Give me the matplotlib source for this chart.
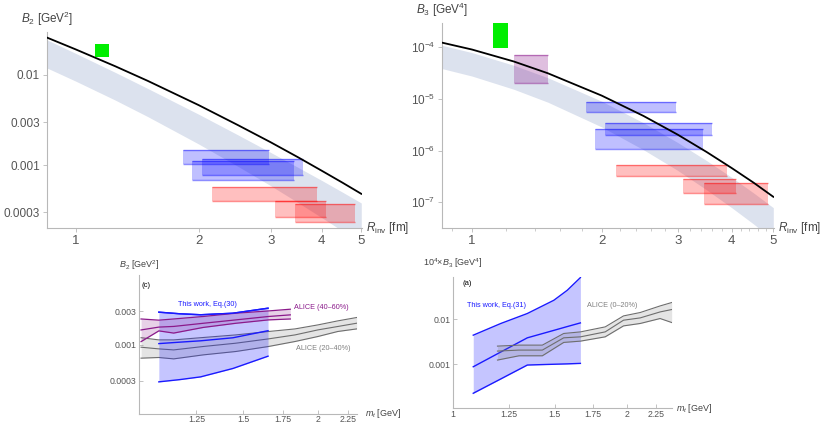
import matplotlib
matplotlib.use('Agg')
import matplotlib.pyplot as plt
from matplotlib.ticker import FixedLocator, FixedFormatter, NullLocator, NullFormatter

plt.rcParams['font.family'] = ['Liberation Sans', 'DejaVu Sans']
plt.rcParams['mathtext.fontset'] = 'custom'
plt.rcParams['mathtext.rm'] = 'Liberation Sans'
plt.rcParams['mathtext.it'] = 'Liberation Sans:italic'
plt.rcParams['mathtext.bf'] = 'Liberation Sans:bold'

# ---- top row: coalescence parameters vs source radius ----
r_grid = [0.85, 1.0, 1.25, 1.5, 2.0, 2.5, 3.0, 3.5, 4.0, 4.5, 5.0]

b2_curve = [0.0260, 0.0192, 0.01247, 0.0086, 0.00462, 0.00276, 0.00179, 0.00122, 0.000865, 0.000636, 0.000479]
b2_band_hi = [0.0245, 0.01734, 0.01066, 0.00708, 0.00366, 0.00215, 0.00138, 0.000942, 0.000675, 0.000499, 0.000379]
b2_band_lo = [0.01196, 0.00853, 0.00525, 0.00345, 0.00171, 0.000962, 0.00059, 0.000383, 0.000261, 0.000185, 0.000134]

b3_curve = [1.216e-4, 8.91e-5, 5.24e-5, 3.10e-5, 1.148e-5, 4.65e-6, 2.03e-6, 9.4e-7, 4.62e-7, 2.4e-7, 1.28e-7]
b3_band_hi = [1.079e-4, 7.77e-5, 4.42e-5, 2.54e-5, 8.95e-6, 3.43e-6, 1.43e-6, 6.41e-7, 3.05e-7, 1.52e-7, 7.9e-8]
b3_band_lo = [3.84e-5, 2.74e-5, 1.525e-5, 8.57e-6, 2.85e-6, 1.035e-6, 4.14e-7, 1.75e-7, 7.94e-8, 3.82e-8, 1.9e-8]

# measured boxes: radius range x value range
b2_blue_rmin = [1.83, 1.93, 2.04]
b2_blue_rmax = [2.98, 3.43, 3.60]
b2_blue_lo = [0.00103, 0.00069, 0.00077]
b2_blue_hi = [0.00147, 0.00111, 0.00116]
b2_red_rmin = [2.15, 3.07, 3.44]
b2_red_rmax = [3.89, 4.10, 4.83]
b2_red_lo = [0.000398, 0.000267, 0.000231]
b2_red_hi = [0.000574, 0.000398, 0.000366]
b2_green_r = [1.117, 1.206]
b2_green_val = [0.01585, 0.0221]

b3_blue_rmin = [1.84, 2.04, 1.93]
b3_blue_rmax = [2.97, 3.61, 3.43]
b3_blue_lo = [5.45e-6, 1.96e-6, 1.054e-6]
b3_blue_hi = [8.7e-6, 3.44e-6, 2.56e-6]
b3_red_rmin = [2.155, 3.08, 3.45]
b3_red_rmax = [3.90, 4.10, 4.86]
b3_red_lo = [3.27e-7, 1.54e-7, 9.44e-8]
b3_red_hi = [5.26e-7, 2.79e-7, 2.4e-7]
b3_purple_r = [1.249, 1.498]
b3_purple_val = [1.97e-5, 7.14e-5]
b3_green_r = [1.119, 1.212]
b3_green_val = [9.73e-5, 2.9e-4]

# ---- bottom row: vs transverse mass ----
mt_fit_c = [1.08, 1.17, 1.27, 1.44, 1.65]
b2_fit_hi = [0.00292, 0.00277, 0.00268, 0.00282, 0.00333]
b2_fit_mid = [0.00103, 0.00108, 0.00113, 0.00125, 0.00158]
b2_fit_lo = [0.00029, 0.000312, 0.000342, 0.000452, 0.000679]

mt_alice_4060 = [1.008, 1.080, 1.144, 1.283, 1.456, 1.653, 1.799]
b2_4060_hi = [0.00233, 0.00224, 0.00233, 0.00253, 0.00282, 0.00304, 0.00322]
b2_4060_mid = [0.00162, 0.00178, 0.00182, 0.00202, 0.00226, 0.00253, 0.00267]
b2_4060_lo = [0.00110, 0.00157, 0.00146, 0.00176, 0.00202, 0.00226, 0.00233]

mt_alice_2040 = [1.008, 1.080, 1.144, 1.283, 1.456, 1.653, 1.832, 2.002, 2.162, 2.327]
b2_2040_hi = [0.001253, 0.001165, 0.001165, 0.001261, 0.001374, 0.001538, 0.001676, 0.001914, 0.002186, 0.002445]
b2_2040_mid = [0.000914, 0.000865, 0.000836, 0.000936, 0.001044, 0.001205, 0.001374, 0.001622, 0.001815, 0.002024]
b2_2040_lo = [0.000636, 0.00065, 0.000621, 0.000709, 0.000793, 0.000936, 0.001104, 0.001303, 0.001538, 0.001676]

mt_fit_d = [1.084, 1.21, 1.345, 1.495, 1.577, 1.662]
b3_fit_hi = [0.00443, 0.00804, 0.01337, 0.02625, 0.04365, 0.0834]
b3_fit_mid = [0.000885, 0.00188, 0.00387, 0.00566, 0.00687, 0.00828]
b3_fit_lo = [0.000229, 0.000476, 0.000966, 0.001006, 0.001025, 0.001051]

mt_alice_0020 = [1.194, 1.301, 1.428, 1.555, 1.663, 1.835, 1.974, 2.110, 2.284, 2.392]
b3_0020_hi = [0.002536, 0.002667, 0.002667, 0.00483, 0.00524, 0.00676, 0.01183, 0.01406, 0.01967, 0.02338]
b3_0020_mid = [0.001968, 0.00207, 0.00207, 0.00387, 0.00407, 0.00524, 0.00951, 0.01069, 0.01449, 0.01637]
b3_0020_lo = [0.001245, 0.001548, 0.001548, 0.00306, 0.00327, 0.00407, 0.00711, 0.00804, 0.01035, 0.00845]

AXIS_GRAY = '#b8b8b8'
TICK_TEXT = '#555555'
BAND = '#dce2ee'
BLUE = '#1a1aff'
PURPLE = '#8b1a8b'
GRAY = '#6e6e6e'


def style_axes(ax, xlim, ylim, xticks, xlabels, yticks, ylabels, xsize, ysize,
               xminor=None, tick_dir='out', xpad=2):
    ax.set_xscale('log')
    ax.set_yscale('log')
    ax.set_xlim(xlim)
    ax.set_ylim(ylim)
    for side in ['top', 'right']:
        ax.spines[side].set_visible(False)
    for side in ['left', 'bottom']:
        ax.spines[side].set_color(AXIS_GRAY)
        ax.spines[side].set_linewidth(0.8)
    ax.xaxis.set_major_locator(FixedLocator(xticks))
    ax.xaxis.set_major_formatter(FixedFormatter(xlabels))
    ax.yaxis.set_major_locator(FixedLocator(yticks))
    ax.yaxis.set_major_formatter(FixedFormatter(ylabels))
    ax.yaxis.set_minor_locator(NullLocator())
    ax.xaxis.set_minor_formatter(NullFormatter())
    ax.yaxis.set_minor_formatter(NullFormatter())
    if xminor is None:
        ax.xaxis.set_minor_locator(NullLocator())
    else:
        ax.xaxis.set_minor_locator(FixedLocator(xminor))
    ax.tick_params(which='major', direction=tick_dir, length=3, width=0.6, color=AXIS_GRAY,
                   labelcolor=TICK_TEXT, pad=2)
    ax.tick_params(which='minor', direction=tick_dir, length=1.8, width=0.5, color=AXIS_GRAY)
    ax.tick_params(axis='x', labelsize=xsize, pad=xpad)
    ax.tick_params(axis='y', labelsize=ysize)
    ax.patch.set_alpha(0)


def boxes(ax, rmin, rmax, lo, hi, color, alpha=0.25):
    for x0, x1, y0, y1 in zip(rmin, rmax, lo, hi):
        ax.fill_between([x0, x1], [y0, y0], [y1, y1], color=color, alpha=alpha, lw=0, zorder=3)
        ax.hlines([y0, y1], x0, x1, color=color, alpha=0.45, lw=1.0, zorder=3)


def band(ax, x, lo, mid, hi, color, fill_alpha, lw=0.9, z=2):
    ax.fill_between(x, lo, hi, color=color, alpha=fill_alpha, lw=0, zorder=z)
    for y in (lo, mid, hi):
        ax.plot(x, y, color=color, lw=lw, zorder=z + 1)


fig = plt.figure(figsize=(8.21, 4.24), dpi=100)

# top left: B2
ax_a = fig.add_axes([0.0572, 0.4623, 0.3837, 0.4623])
ax_a.fill_between(r_grid, b2_band_lo, b2_band_hi, color=BAND, lw=0, zorder=1)
ax_a.plot(r_grid, b2_curve, color='black', lw=1.3, zorder=4)
boxes(ax_a, b2_blue_rmin, b2_blue_rmax, b2_blue_lo, b2_blue_hi, 'blue')
boxes(ax_a, b2_red_rmin, b2_red_rmax, b2_red_lo, b2_red_hi, 'red')
ax_a.fill_between(b2_green_r, b2_green_val[0], b2_green_val[1], color='#00ee00', lw=0, zorder=5)
style_axes(ax_a, (0.85, 5.02), (0.0002, 0.03),
           [1, 2, 3, 4, 5], ['1', '2', '3', '4', '5'],
           [0.0003, 0.001, 0.003, 0.01], ['0.0003', '0.001', '0.003', '0.01'], 9.5, 8.5)
ax_a.annotate(r'$B_2$ [GeV$^2$]', xy=(0, 1), xycoords='axes fraction', xytext=(0, 3),
              textcoords='offset points', ha='center', va='bottom', fontsize=8.5, color='#444444')
ax_a.annotate(r'$R_{\mathrm{inv}}$ [fm]', xy=(1, 0), xycoords='axes fraction', xytext=(3, 0),
              textcoords='offset points', ha='left', va='center', fontsize=8.5, color='#444444')

# top right: B3
ax_b = fig.add_axes([0.5384, 0.4623, 0.4044, 0.4835])
ax_b.fill_between(r_grid, b3_band_lo, b3_band_hi, color=BAND, lw=0, zorder=1)
ax_b.plot(r_grid, b3_curve, color='black', lw=1.3, zorder=4)
boxes(ax_b, b3_blue_rmin, b3_blue_rmax, b3_blue_lo, b3_blue_hi, 'blue')
boxes(ax_b, b3_red_rmin, b3_red_rmax, b3_red_lo, b3_red_hi, 'red')
boxes(ax_b, [b3_purple_r[0]], [b3_purple_r[1]], [b3_purple_val[0]], [b3_purple_val[1]], 'purple')
ax_b.fill_between(b3_green_r, b3_green_val[0], b3_green_val[1], color='#00ee00', lw=0, zorder=5)
minor_r = [0.9] + [1.2, 1.4, 1.6, 1.8] + [2.2, 2.4, 2.6, 2.8] + [3.2, 3.4, 3.6, 3.8] + [4.2, 4.4, 4.6, 4.8]
style_axes(ax_b, (0.852, 5.02), (3.2e-8, 2.9e-4),
           [1, 2, 3, 4, 5], ['1', '2', '3', '4', '5'],
           [1e-7, 1e-6, 1e-5, 1e-4], [r'$10^{-7}$', r'$10^{-6}$', r'$10^{-5}$', r'$10^{-4}$'],
           9.5, 8.5, xminor=minor_r)
ax_b.annotate(r'$B_3$ [GeV$^4$]', xy=(0, 1), xycoords='axes fraction', xytext=(0, 3),
              textcoords='offset points', ha='center', va='bottom', fontsize=8.5, color='#444444')
ax_b.annotate(r'$R_{\mathrm{inv}}$ [fm]', xy=(1, 0), xycoords='axes fraction', xytext=(3, 0),
              textcoords='offset points', ha='left', va='center', fontsize=8.5, color='#444444')

# bottom left: B2 vs m_t
ax_c = fig.add_axes([0.1693, 0.0236, 0.2655, 0.3278])
band(ax_c, mt_alice_2040, b2_2040_lo, b2_2040_mid, b2_2040_hi, GRAY, 0.18, lw=0.8, z=2)
band(ax_c, mt_fit_c, b2_fit_lo, b2_fit_mid, b2_fit_hi, BLUE, 0.25, lw=1.0, z=4)
band(ax_c, mt_alice_4060, b2_4060_lo, b2_4060_mid, b2_4060_hi, PURPLE, 0.2, lw=0.9, z=6)
ax_c.plot(mt_fit_c, b2_fit_hi, color=BLUE, lw=1.0, zorder=8)
style_axes(ax_c, (1.0, 2.33), (1e-4, 1e-2),
           [1.25, 1.5, 1.75, 2, 2.25], ['1.25', '1.5', '1.75', '2', '2.25'],
           [0.0003, 0.001, 0.003], ['0.0003', '0.001', '0.003'], 6.3, 6.3,
           tick_dir='in', xpad=1)
ax_c.annotate(r'$B_2$ [GeV$^2$]', xy=(0, 1), xycoords='axes fraction', xytext=(0, 2),
              textcoords='offset points', ha='center', va='bottom', fontsize=6.5, color='#444444')
ax_c.annotate(r'$m_t$ [GeV]', xy=(1, 0), xycoords='axes fraction', xytext=(6, 0),
              textcoords='offset points', ha='left', va='center', fontsize=6.5, color='#444444')
ax_c.text(0.032, 0.928, '(c)', transform=ax_c.transAxes, ha='center', va='center', fontsize=5.5)
ax_c.text(0.314, 0.791, 'This work, Eq.(30)', transform=ax_c.transAxes, ha='center', va='center',
          fontsize=5.2, color=BLUE)
ax_c.text(0.711, 0.765, 'ALICE (40–60%)', transform=ax_c.transAxes, ha='left', va='center',
          fontsize=5.2, color=PURPLE)
ax_c.text(0.720, 0.473, 'ALICE (20–40%)', transform=ax_c.transAxes, ha='left', va='center',
          fontsize=5.2, color='#808080')

# bottom right: B3 vs m_t
ax_d = fig.add_axes([0.5518, 0.0377, 0.2667, 0.309])
band(ax_d, mt_fit_d, b3_fit_lo, b3_fit_mid, b3_fit_hi, BLUE, 0.25, lw=1.0, z=2)
band(ax_d, mt_alice_0020, b3_0020_lo, b3_0020_mid, b3_0020_hi, GRAY, 0.18, lw=0.8, z=4)
style_axes(ax_d, (1.0, 2.395), (1.08e-4, 0.086),
           [1, 1.25, 1.5, 1.75, 2, 2.25], ['1', '1.25', '1.5', '1.75', '2', '2.25'],
           [0.001, 0.01], ['0.001', '0.01'], 6.3, 6.3, tick_dir='in', xpad=1.5)
ax_d.annotate(r'10$^4$×$B_3$ [GeV$^4$]', xy=(0, 1), xycoords='axes fraction', xytext=(0, 5),
              textcoords='offset points', ha='center', va='bottom', fontsize=6.5, color='#444444')
ax_d.annotate(r'$m_t$ [GeV]', xy=(1, 0), xycoords='axes fraction', xytext=(3, 0),
              textcoords='offset points', ha='left', va='center', fontsize=6.5, color='#444444')
ax_d.text(0.064, 0.954, '(a)', transform=ax_d.transAxes, ha='center', va='center', fontsize=5.5)
ax_d.text(0.0626, 0.781, 'This work, Eq.(31)', transform=ax_d.transAxes, ha='left', va='center',
          fontsize=5.2, color=BLUE)
ax_d.text(0.6105, 0.781, 'ALICE (0–20%)', transform=ax_d.transAxes, ha='left', va='center',
          fontsize=5.2, color='#808080')

fig.savefig('out.png', dpi=100)
plt.close(fig)
